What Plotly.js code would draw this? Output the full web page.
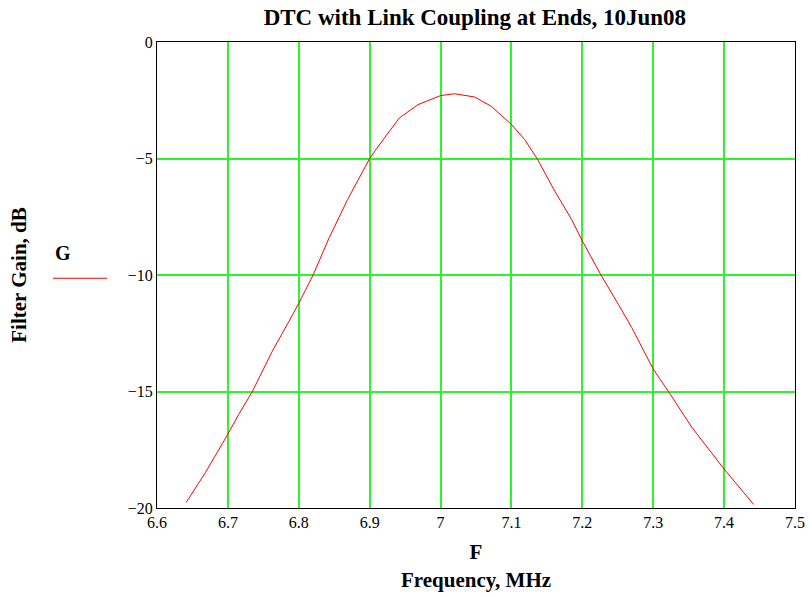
<!DOCTYPE html>
<html>
<head>
<meta charset="utf-8">
<script src="https://cdn.plot.ly/plotly-3.0.1.min.js"></script>
<style>html,body{margin:0;padding:0;background:#fff;}#chart{width:809px;height:596px;}</style>
</head>
<body>
<div id="chart"></div>
<script>
const freqMHz = [6.6412, 6.6685, 6.700, 6.7156, 6.7345, 6.7628, 6.7863, 6.800, 6.8202, 6.8429, 6.8689, 6.900, 6.9207, 6.9419, 6.968, 7.000, 7.0197, 7.048, 7.0716, 7.100, 7.1187, 7.1361, 7.1611, 7.1847, 7.200, 7.2263, 7.2508, 7.2696, 7.300, 7.3215, 7.3545, 7.400, 7.4417];
const gainDB = [-19.76, -18.47, -16.83, -15.97, -15.0, -13.26, -11.98, -11.22, -10.0, -8.40, -6.76, -5.0, -4.12, -3.26, -2.69, -2.30, -2.22, -2.36, -2.76, -3.54, -4.19, -5.0, -6.40, -7.61, -8.54, -10.0, -11.26, -12.25, -14.04, -15.0, -16.54, -18.33, -19.85];
const xTicks = [6.6, 6.7, 6.8, 6.9, 7, 7.1, 7.2, 7.3, 7.4, 7.5];
const yTicks = [0, -5, -10, -15, -20];
const seriesName = "G";

const serif = "Liberation Serif, Times New Roman, serif";
const grid = "#2cf52c";

Plotly.newPlot("chart", [{
  x: freqMHz, y: gainDB, type: "scatter", mode: "lines", name: seriesName,
  line: {color: "#ff0000", width: 1}, showlegend: false
}], {
  width: 809, height: 596,
  margin: {l: 157, r: 14, t: 42, b: 88},
  paper_bgcolor: "#fff", plot_bgcolor: "#fff",
  font: {family: serif, size: 14, color: "#000"},
  title: {text: "<b>DTC with Link Coupling at Ends, 10Jun08</b>", font: {family: serif, size: 23, color: "#000"}, x: 0.587, xanchor: "center", y: 0.972, yanchor: "middle"},
  xaxis: {
    range: [6.6, 7.5], tickvals: xTicks, ticktext: xTicks.map(String),
    showgrid: true, gridcolor: grid, gridwidth: 2, zeroline: false,
    showline: true, linecolor: "#000", linewidth: 1, mirror: true, ticks: "",
    tickfont: {family: serif, size: 16},
    title: {text: "<b>F</b><br><b>Frequency, MHz</b>", font: {family: serif, size: 21}, standoff: 14}
  },
  yaxis: {
    range: [-20, 0], tickvals: yTicks, ticktext: yTicks.map(v => v < 0 ? "\u2212" + Math.abs(v) : String(v)),
    showgrid: true, gridcolor: grid, gridwidth: 2, zeroline: false,
    showline: true, linecolor: "#000", linewidth: 1, mirror: true, ticks: "",
    tickfont: {family: serif, size: 16},
    title: {text: "<b>Filter Gain, dB</b>", font: {family: serif, size: 21}, standoff: 95}
  },
  annotations: [{
    xref: "paper", yref: "paper", x: -0.147, y: 0.548, xanchor: "center", yanchor: "middle",
    text: "<b>" + seriesName + "</b>", showarrow: false, font: {family: serif, size: 20, color: "#000"}
  }],
  shapes: [{
    type: "line", xref: "paper", yref: "paper", x0: -0.163, x1: -0.078, y0: 0.493, y1: 0.493,
    line: {color: "#ff0000", width: 1}
  }]
}, {displayModeBar: false, staticPlot: true});
</script>
</body>
</html>
